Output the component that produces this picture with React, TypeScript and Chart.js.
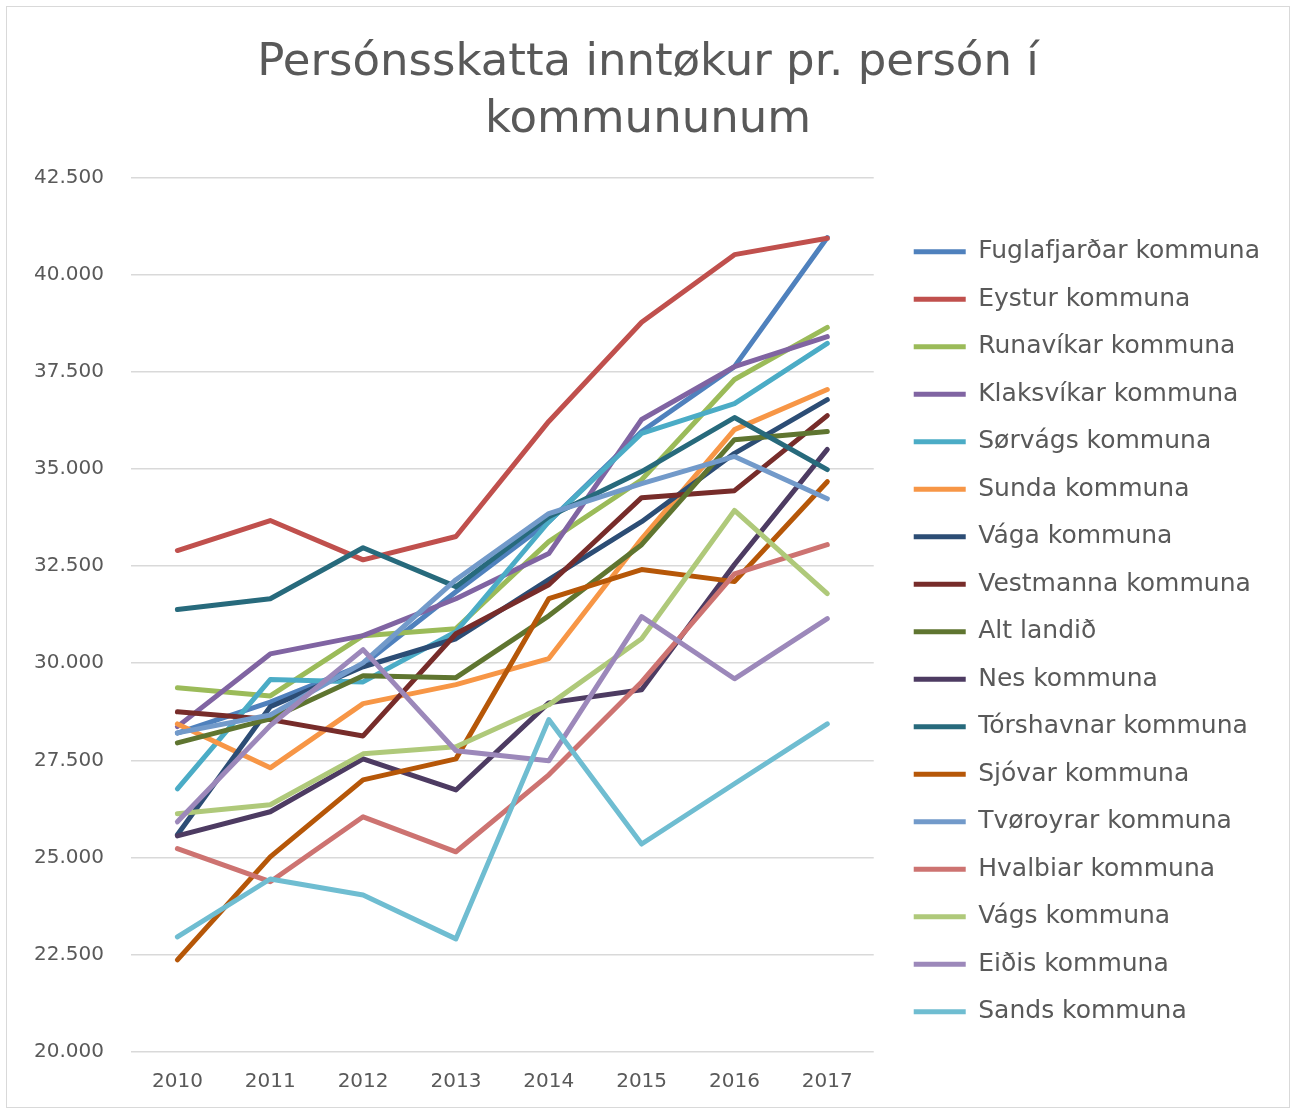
import React, { useEffect, useRef } from "react";
import { Chart, registerables } from "chart.js";

Chart.register(...registerables);

const titleLines = ["Persónsskatta inntøkur pr. persón í", "kommununum"];

const years = ["2010", "2011", "2012", "2013", "2014", "2015", "2016", "2017"];

const names = [
  "Fuglafjarðar kommuna",
  "Eystur kommuna",
  "Runavíkar kommuna",
  "Klaksvíkar kommuna",
  "Sørvágs kommuna",
  "Sunda kommuna",
  "Vága kommuna",
  "Vestmanna kommuna",
  "Alt landið",
  "Nes kommuna",
  "Tórshavnar kommuna",
  "Sjóvar kommuna",
  "Tvøroyrar kommuna",
  "Hvalbiar kommuna",
  "Vágs kommuna",
  "Eiðis kommuna",
  "Sands kommuna",
];

const colors = [
  "#4F81BD",
  "#C0504D",
  "#9BBB59",
  "#8064A2",
  "#4BACC6",
  "#F79646",
  "#2C4D75",
  "#772C2A",
  "#5F7530",
  "#4D3B62",
  "#276A7C",
  "#B65708",
  "#729ACA",
  "#CD7371",
  "#AFC97A",
  "#9C88BA",
  "#6FBDD1",
];

const fuglafjardar = [28200, 29000, 29960, 31840, 33640, 35960, 37630, 40950];
const eystur = [32900, 33670, 32660, 33260, 36220, 38770, 40510, 40930];
const runavikar = [29370, 29160, 30710, 30890, 33130, 34720, 37300, 38640];
const klaksvikar = [28370, 30240, 30710, 31660, 32820, 36270, 37630, 38400];
const sorvags = [26770, 29580, 29520, 30810, 33640, 35910, 36680, 38230];
const sunda = [28440, 27310, 28960, 29450, 30120, 33200, 36010, 37040];
const vaga = [25590, 28880, 29910, 30630, 32150, 33640, 35400, 36780];
const vestmanna = [28750, 28550, 28130, 30760, 32020, 34260, 34440, 36370];
const altLandid = [27950, 28570, 29680, 29630, 31220, 33050, 35750, 35960];
const nes = [25560, 26180, 27540, 26740, 28980, 29320, 32540, 35500];
const torshavnar = [31380, 31660, 32970, 31970, 33770, 34930, 36320, 34980];
const sjovar = [22370, 25020, 27000, 27540, 31660, 32410, 32100, 34670];
const tvoroyrar = [28210, 28670, 30010, 32150, 33850, 34620, 35320, 34230];
const hvalbiar = [25230, 24380, 26050, 25150, 27130, 29520, 32300, 33050];
const vags = [26130, 26360, 27670, 27850, 28930, 30630, 33930, 31790];
const eidis = [25920, 28400, 30350, 27750, 27490, 31200, 29600, 31150];
const sands = [22960, 24450, 24040, 22910, 28550, 25350, 26900, 28440];

const seriesValues = [
  fuglafjardar, eystur, runavikar, klaksvikar, sorvags, sunda, vaga, vestmanna,
  altLandid, nes, torshavnar, sjovar, tvoroyrar, hvalbiar, vags, eidis, sands,
];

const yMin = 20000;
const yMax = 42500;
const yStep = 2500;

const FONT = "'DejaVu Sans', sans-serif";
const TEXT = "#595959";
const TITLE_SIZE = 45;
const TITLE_LH = 1.27;
const TITLE_PAD_TOP = 28;

function fmt(v: number): string {
  return String(v).replace(/\B(?=(\d{3})+(?!\d))/g, ".");
}

// Draws the (layout-reserved) title centred on the whole canvas.
const centeredTitle = {
  id: "centeredTitle",
  afterDraw(chart: any) {
    const tb = chart.titleBlock;
    if (!tb) return;
    const ctx = chart.ctx;
    const lh = TITLE_SIZE * TITLE_LH;
    const y0 = tb.top + TITLE_PAD_TOP + lh / 2;
    ctx.save();
    ctx.font = `normal ${TITLE_SIZE}px ${FONT}`;
    ctx.fillStyle = TEXT;
    ctx.textAlign = "center";
    ctx.textBaseline = "middle";
    titleLines.forEach((line, i) => ctx.fillText(line, chart.width / 2, y0 + i * lh));
    ctx.restore();
  },
};

export default function App() {
  const ref = useRef<HTMLCanvasElement>(null);
  useEffect(() => {
    if (!ref.current) return;
    const n = names.length;
    const chart = new Chart(ref.current, {
      type: "line",
      data: {
        labels: years,
        datasets: names.map((name, i) => ({
          label: name,
          data: seriesValues[i],
          borderColor: colors[i],
          backgroundColor: colors[i],
          borderWidth: 5,
          pointRadius: 0,
          tension: 0,
          fill: false,
          yAxisID: "y",
          order: n - i,
          borderCapStyle: "round" as const,
          borderJoinStyle: "round" as const,
        })),
      },
      plugins: [centeredTitle],
      options: {
        animation: false,
        responsive: false,
        maintainAspectRatio: false,
        layout: { padding: { left: 0, right: 19, top: 0, bottom: -5 } },
        plugins: {
          tooltip: { enabled: false },
          title: {
            display: true,
            text: titleLines,
            color: "rgba(0,0,0,0)",
            font: { family: FONT, size: TITLE_SIZE, weight: "normal", lineHeight: TITLE_LH },
            padding: { top: TITLE_PAD_TOP, bottom: 28 },
          },
          legend: {
            display: true,
            position: "right",
            fullSize: false,
            align: "center",
            maxWidth: 600,
            title: {
              display: true,
              text: " ",
              font: { family: FONT, size: 10, lineHeight: 1.2 },
              padding: 11,
            },
            labels: {
              color: TEXT,
              font: { family: FONT, size: 25 },
              boxWidth: 52,
              boxHeight: 5,
              padding: 22.5,
              sort: (a: any, b: any) => a.datasetIndex - b.datasetIndex,
              generateLabels: (c: any) =>
                c.data.datasets.map((ds: any, i: number) => ({
                  text: ds.label,
                  fillStyle: ds.borderColor,
                  strokeStyle: ds.borderColor,
                  lineWidth: 0,
                  hidden: false,
                  datasetIndex: i,
                  fontColor: TEXT,
                })),
            },
          },
        },
        scales: {
          x: {
            offset: true,
            grid: { display: false, drawTicks: false },
            border: { display: false },
            ticks: { color: TEXT, font: { family: FONT, size: 20 }, padding: 18 },
          },
          y: {
            min: yMin,
            max: yMax,
            grid: { color: "#d9d9d9", lineWidth: 1.5, drawTicks: false },
            border: { display: false },
            ticks: {
              stepSize: yStep,
              color: TEXT,
              font: { family: FONT, size: 20 },
              padding: 27,
              callback: (v: any) => fmt(Number(v)),
            },
          },
          gap: {
            position: "right",
            display: true,
            grid: { display: false, drawTicks: false },
            border: { display: false },
            ticks: { display: false },
            afterFit: (s: any) => {
              s.width = 17.5;
            },
          },
        },
      },
    });
    return () => chart.destroy();
  }, []);
  return (
    <div
      style={{
        position: "absolute",
        left: 6,
        top: 6,
        width: 1282,
        height: 1100,
        border: "1px solid #d9d9d9",
        background: "#fff",
      }}
    >
      <canvas ref={ref} width={1282} height={1100} style={{ display: "block" }} />
    </div>
  );
}
